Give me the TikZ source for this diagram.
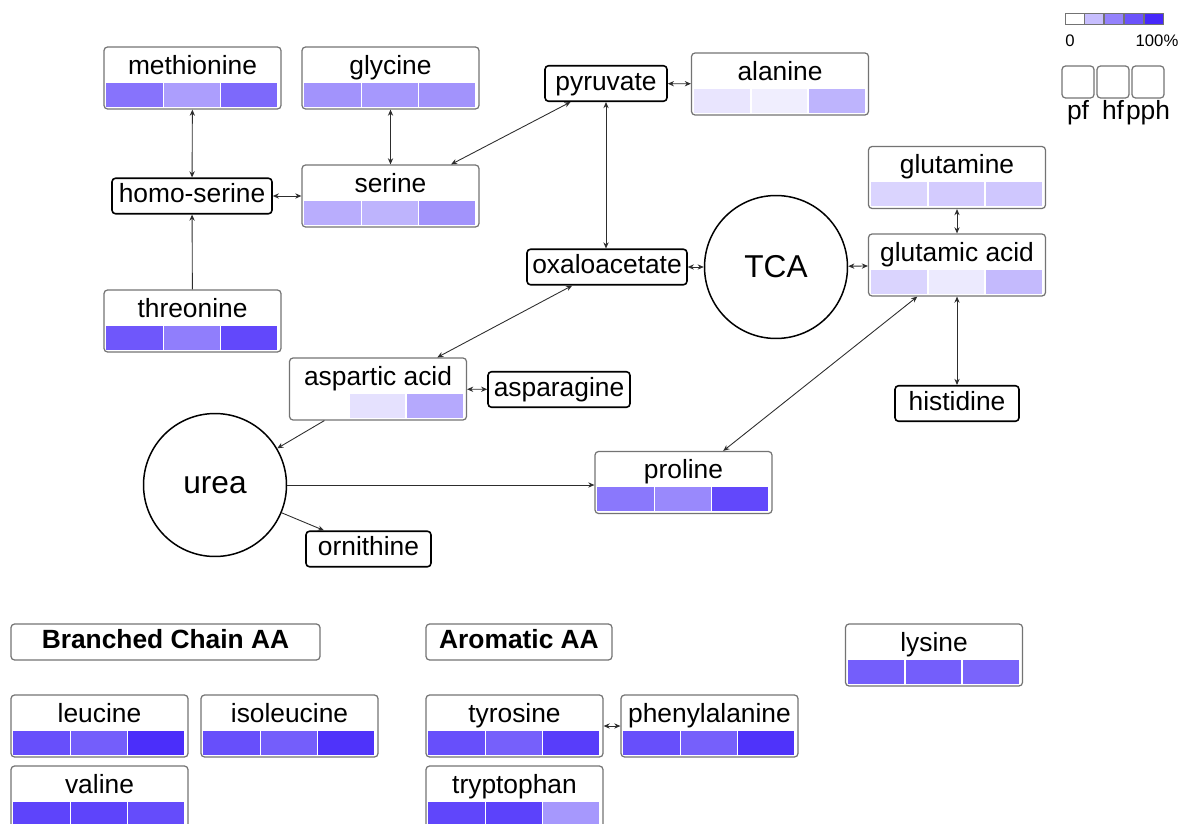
\documentclass[tikz,border=0pt]{standalone}
\usepackage{fontspec}
\setmainfont{Liberation Sans}
\usepackage{tikz}
\usetikzlibrary{arrows.meta,calc,positioning}
\definecolor{heatblue}{RGB}{70,40,250}
\definecolor{boxgray}{RGB}{115,115,115}
\definecolor{linkgray}{RGB}{45,45,45}

% metabolite box with three heat cells: name, centre, label, cell colours
\newcommand{\heatbox}[6]{%
    \node[hbox] (#1) at (#2) {};
    \node[hlabel] (#1-lab) at ($(#1.north)+(0,28)$) {#3};
    \begin{scope}[shift={(#1.south west)}]
        \fill[#4] (3,-3) rectangle (60,-27);
        \fill[#5] (60,-3) rectangle (117,-27);
        \fill[#6] (117,-3) rectangle (174,-27);
        \draw[white, line width=0.8pt] (60,-3) -- (60,-27) (117,-3) -- (117,-27);
    \end{scope}
}

\begin{document}
\begin{tikzpicture}[x=0.02cm, y=-0.02cm,
    hbox/.style={draw=boxgray, line width=0.7pt, rounded corners=2pt, minimum width=3.54cm, minimum height=1.24cm, inner sep=0pt},
    hlabel/.style={anchor=base, inner sep=0pt, font=\fontsize{15}{18}\selectfont},
    pbox/.style={draw=black, line width=0.9pt, rounded corners=2pt, minimum height=0.71cm, inner sep=0pt, text height=10.7pt, text depth=3.2pt, font=\fontsize{15}{18}\selectfont},
    headbox/.style={draw=boxgray, line width=0.7pt, rounded corners=2pt, minimum height=0.72cm, inner sep=0pt, text height=10.7pt, text depth=3.2pt, font=\fontsize{15}{18}\selectfont\bfseries},
    pool/.style={circle, draw=black, line width=0.85pt, minimum size=2.86cm, inner sep=0pt, font=\fontsize{18}{22}\selectfont},
    link/.style={{Stealth[length=3.5pt,width=3pt]}-{Stealth[length=3.5pt,width=3pt]}, draw=linkgray, line width=0.5pt},
    onelink/.style={-{Stealth[length=3.5pt,width=3pt]}, draw=linkgray, line width=0.5pt},
    legsq/.style={draw=boxgray, line width=0.7pt, rounded corners=2pt, minimum size=0.64cm, inner sep=0pt},
    barcell/.style={draw=boxgray, line width=0.5pt, minimum width=0.38cm, minimum height=0.22cm, inner sep=0pt},
    leglabel/.style={anchor=base, inner sep=0pt, font=\fontsize{15}{18}\selectfont},
    ticklabel/.style={anchor=base, inner sep=0pt, font=\fontsize{9.5}{11}\selectfont}]

    \useasboundingbox (0,0) rectangle (1182,824);

    % Heat boxes of the pathway
    \heatbox{met}{192.5,78}{methionine}{heatblue!65}{heatblue!45}{heatblue!70}
    \heatbox{gly}{390.5,78}{glycine}{heatblue!50}{heatblue!48}{heatblue!50}
    \heatbox{ala}{780,84}{alanine}{heatblue!12}{heatblue!8}{heatblue!35}
    \heatbox{ser}{390.5,196}{serine}{heatblue!38}{heatblue!35}{heatblue!50}
    \heatbox{gln}{957,177.5}{glutamine}{heatblue!20}{heatblue!24}{heatblue!26}
    \heatbox{glu}{957,265}{glutamic acid}{heatblue!20}{heatblue!10}{heatblue!32}
    \heatbox{thr}{192.5,321}{threonine}{heatblue!78}{heatblue!60}{heatblue!85}
    \heatbox{asp}{378,389}{aspartic acid}{white}{heatblue!14}{heatblue!40}
    \heatbox{pro}{683.5,482.5}{proline}{heatblue!63}{heatblue!55}{heatblue!85}

    % Plain intermediates
    \node[pbox, minimum width=2.44cm] (pyr) at (606,83.5) {pyruvate};
    \node[pbox, minimum width=3.2cm] (hse) at (192,196) {homo-serine};
    \node[pbox, minimum width=3.2cm] (oxa) at (607,267) {oxaloacetate};
    \node[pbox, minimum width=2.84cm] (asn) at (559,389.5) {asparagine};
    \node[pbox, minimum width=2.48cm] (his) at (957,403.5) {histidine};
    \node[pbox, minimum width=2.5cm] (orn) at (368.5,549) {ornithine};

    % Cycles
    \node[pool] (tca) at (776,267) {TCA};
    \node[pool] (urea) at (215,485) {urea};

    % Connections
    \draw[link] (met) -- (hse);
    \draw[link] (gly) -- (ser);
    \draw[link] (hse) -- (ser);
    \draw[onelink] (thr) -- (hse);
    \draw[link] (ser) -- (pyr);
    \draw[link] (pyr) -- (ala);
    \draw[link] (pyr.south) -- (pyr.south |- oxa.north);
    \draw[link] (oxa) -- (tca);
    \draw[link] (tca) -- (glu);
    \draw[link] (gln) -- (glu);
    \draw[link] (glu) -- (his);
    \draw[link] (oxa) -- (asp);
    \draw[link] (asp) -- (asn);
    \draw[onelink] (asp) -- (urea);
    \draw[onelink] (urea.east) -- (urea.east -| pro.west);
    \draw[onelink] (urea) -- (orn);
    \draw[link] (pro) -- (glu);

    % Groups
    \node[headbox, minimum width=6.18cm] (bca) at (165.5,642) {Branched Chain AA};
    \node[headbox, minimum width=3.72cm] (aro) at (519,642) {Aromatic AA};

    \heatbox{lys}{934,655}{lysine}{heatblue!75}{heatblue!75}{heatblue!72}
    \heatbox{leu}{99.5,726}{leucine}{heatblue!82}{heatblue!75}{heatblue!97}
    \heatbox{ile}{289.5,726}{isoleucine}{heatblue!82}{heatblue!75}{heatblue!95}
    \heatbox{val}{99.5,797}{valine}{heatblue!87}{heatblue!87}{heatblue!83}
    \heatbox{tyr}{514.5,726}{tyrosine}{heatblue!82}{heatblue!74}{heatblue!90}
    \heatbox{phe}{709.5,726}{phenylalanine}{heatblue!82}{heatblue!74}{heatblue!95}
    \heatbox{trp}{514.5,797}{tryptophan}{heatblue!86}{heatblue!88}{heatblue!48}

    \draw[link] (tyr) -- (phe);

    % Legend
    \node[barcell, fill=white] (bar1) at (1074.5,18.5) {};
    \foreach \c [count=\i from 2, evaluate=\i as \j using int(\i-1)] in {heatblue!30, heatblue!58, heatblue!80, heatblue!100}
        \node[barcell, fill=\c, right=0pt of bar\j] (bar\i) {};
    \node[ticklabel] (tick0) at (1070,47) {0};
    \node[ticklabel] (tick100) at (1157,47) {100\%};

    \node[legsq] (sq1) at (1078,82) {};
    \node[legsq] (sq2) at (1113,82) {};
    \node[legsq] (sq3) at (1148,82) {};
    \node[leglabel] (lab1) at (1078,120) {pf};
    \node[leglabel] (lab2) at (1113,120) {hf};
    \node[leglabel] (lab3) at (1148,120) {pph};
\end{tikzpicture}
\end{document}
